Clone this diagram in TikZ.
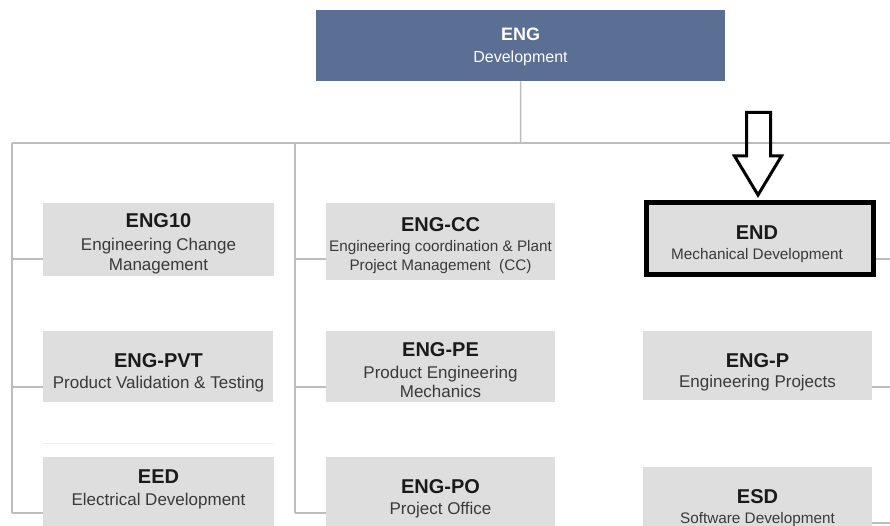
\documentclass[tikz,border=0pt]{standalone}
\usepackage{fontspec}
\setmainfont{Liberation Sans}
\definecolor{boxgray}{HTML}{DEDEDE}
\definecolor{topblue}{HTML}{5B6E94}
\definecolor{titlecol}{HTML}{1A1A1A}
\definecolor{subcol}{HTML}{3A3A3A}
\definecolor{linegray}{HTML}{BDBDBD}
\definecolor{faintgray}{HTML}{F0F0F0}
\begin{document}
\begin{tikzpicture}[x=1pt,y=-1pt,
  unit/.style={fill=boxgray, draw=none, inner sep=0pt, anchor=north west},
  topunit/.style={fill=topblue, draw=none, inner sep=0pt, anchor=north west},
  focus/.style={fill=boxgray, draw=black, line width=5pt, inner sep=0pt, anchor=north west},
  title/.style={anchor=base, inner sep=0pt, text=titlecol, font=\fontsize{20}{24}\selectfont\bfseries},
  sub/.style={anchor=base, inner sep=0pt, align=center, text=subcol, font=\fontsize{17}{20}\selectfont},
  subsmall/.style={anchor=base, inner sep=0pt, align=center, text=subcol, font=\fontsize{15.3}{18}\selectfont},
  link/.style={draw=linegray, line width=1.5pt},
  pointer/.style={draw=black, line width=3pt, line join=miter}
]
\clip (0,0) rectangle (890,526);
\fill[white] (0,0) rectangle (890,526);

% head of the chart
\node[topunit, minimum width=409pt, minimum height=71pt] (top) at (316,10) {};
\node[anchor=base, inner sep=0pt, text=white, font=\fontsize{18}{22}\selectfont\bfseries] (ttop) at (520.5,41) {ENG};
\node[anchor=base, inner sep=0pt, text=white, font=\fontsize{16}{20}\selectfont] (stop) at (520.5,63) {Development};

% left column
\node[unit, minimum width=231pt, minimum height=73pt] (b10) at (43,203) {};
\node[unit, minimum width=230pt, minimum height=71pt] (bpvt) at (43,331) {};
\node[unit, minimum width=231pt, minimum height=80pt] (beed) at (43,457) {};
\draw[faintgray, line width=1pt] (43,443) -- (273,443);

% middle column
\node[unit, minimum width=229pt, minimum height=77pt] (bcc) at (326,203) {};
\node[unit, minimum width=229pt, minimum height=71pt] (bpe) at (326,331) {};
\node[unit, minimum width=229pt, minimum height=80pt] (bpo) at (326,457) {};

% right column
\node[focus, minimum width=227pt, minimum height=71pt] (bend) at (643.5,200.5) {};
\node[unit, minimum width=229pt, minimum height=69pt] (bp) at (643,331) {};
\node[unit, minimum width=229pt, minimum height=70pt] (besd) at (643,467) {};

% texts (two-line captions are placed by the baseline of their last line)
\node[title] (t10) at (158.5,228) {ENG10};
\node[sub] (s10) at (158.5,270) {Engineering Change\\Management};
\node[title] (tpvt) at (158.5,367) {ENG-PVT};
\node[sub] (spvt) at (158.5,388) {Product Validation \& Testing};
\node[title] (teed) at (158.5,483) {EED};
\node[sub] (seed) at (158.5,505) {Electrical Development};

\node[title] (tcc) at (440.5,232) {ENG-CC};
\node[subsmall] (scc) at (440.5,270) {Engineering coordination \& Plant\\Project Management\ \ (CC)};
\node[title] (tpe) at (440.5,356) {ENG-PE};
\node[sub, font=\fontsize{17}{19}\selectfont] (spe) at (440.5,397) {Product Engineering\\Mechanics};
\node[title] (tpo) at (440.5,493) {ENG-PO};
\node[sub] (spo) at (440.5,514) {Project Office};

\node[title] (tend) at (757,240) {END};
\node[subsmall] (send) at (757,260) {Mechanical Development};
\node[title] (tp) at (757.5,367) {ENG-P};
\node[sub] (sp) at (757.5,387) {Engineering Projects};
\node[title] (tesd) at (757.5,503) {ESD};
\node[subsmall] (sesd) at (757.5,523) {Software Development};

% connector tree
\coordinate (j) at (520.5,143);
\coordinate (hl) at (12,143);
\coordinate (hr) at (895,143);
\coordinate (ml) at (295,143);
\coordinate (l1) at (12,259);
\coordinate (l2) at (12,387);
\coordinate (l3) at (12,513);
\coordinate (m1) at (295,259);
\coordinate (m2) at (295,387);
\coordinate (m3) at (295,513);
\coordinate (r1) at (895,259);
\coordinate (r2) at (895,387);
\coordinate (r3) at (895,523);

\draw[link] (top.south) -- (j);
\draw[link] (hl) -- (hr);
\draw[link] (hl) -- (l3);
\draw[link] (ml) -- (m3);
\draw[link] (l1) -- (l1 -| b10.west);
\draw[link] (l2) -- (l2 -| bpvt.west);
\draw[link] (l3) -- (l3 -| beed.west);
\draw[link] (m1) -- (m1 -| bcc.west);
\draw[link] (m2) -- (m2 -| bpe.west);
\draw[link] (m3) -- (m3 -| bpo.west);
\draw[link] (bend.east |- r1) -- (r1);
\draw[link] (bp.east |- r2) -- (r2);
\draw[link] (besd.east |- r3) -- (r3);

% outlined block arrow pointing at the highlighted unit
\draw[pointer] (746.5,112.5) -- (770.5,112.5) -- (770.5,156) -- (781.5,156)
  -- (758,195) -- (734.5,156) -- (746.5,156) -- cycle;
\end{tikzpicture}
\end{document}
